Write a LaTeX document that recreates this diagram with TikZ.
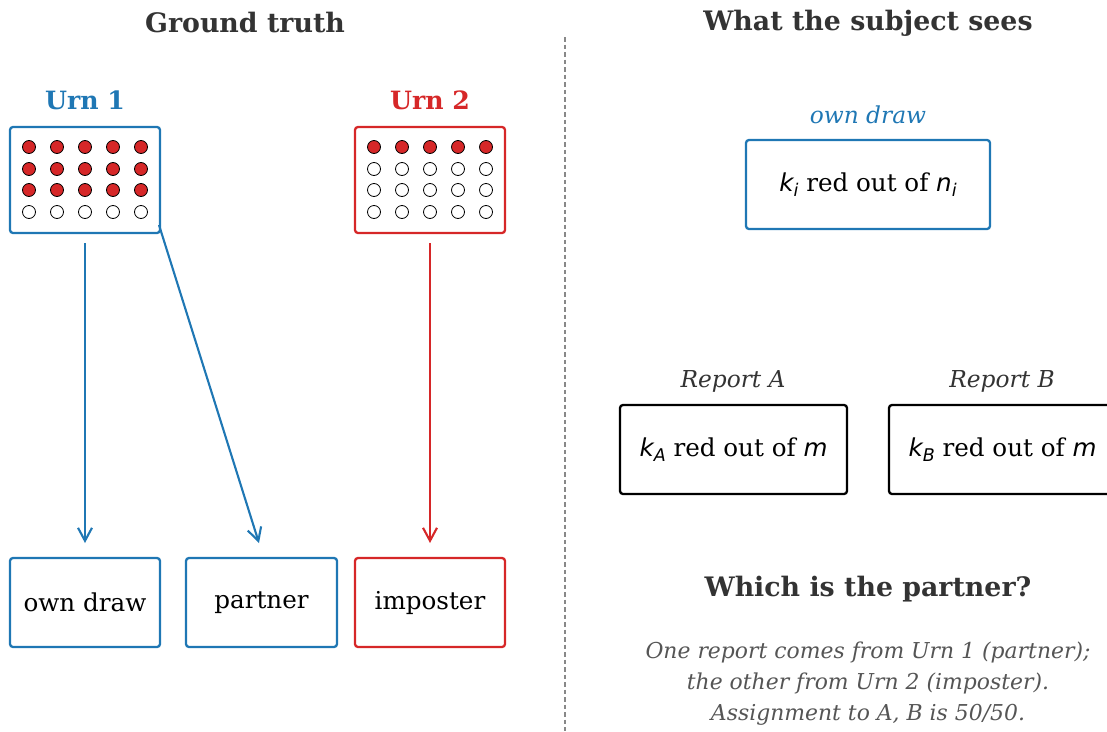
\documentclass[tikz,border=0pt]{standalone}
\usepackage{fontspec}
\setmainfont{DejaVu Serif}
\newfontfamily\dvsans{DejaVu Sans}
\usetikzlibrary{arrows.meta,calc}
\definecolor{cblue}{HTML}{1F77B4}
\definecolor{cred}{HTML}{D62728}
\definecolor{dark}{HTML}{333333}
\definecolor{note}{HTML}{555555}
\definecolor{divider}{HTML}{888888}
% math-like variable with subscript, set in DejaVu Sans Oblique
\newcommand{\mvar}[1]{{\dvsans\itshape #1}}
\newcommand{\msub}[2]{{\dvsans\itshape #1\raisebox{-0.22em}{\fontsize{17.5}{20}\selectfont #2}}}
\tikzset{
  x=1pt, y=-1pt,
  titletext/.style={font=\fontsize{26.8}{32}\selectfont\bfseries, text=dark},
  urnlabel/.style={font=\fontsize{25.2}{30}\selectfont\bfseries},
  boxtext/.style={font=\fontsize{24.6}{29}\selectfont},
  boxframe/.style={draw, line width=2.3pt, rounded corners=3pt, inner sep=0pt, minimum height=89pt},
  urnbox/.style={draw, line width=2.3pt, rounded corners=3pt, inner sep=0pt, minimum width=150pt, minimum height=106pt},
  redball/.style={circle, draw=black, line width=0.8pt, fill=cred, minimum size=13pt, inner sep=0pt},
  whiteball/.style={circle, draw=black, line width=0.8pt, fill=white, minimum size=13pt, inner sep=0pt},
  flow/.style={line width=2.1pt, -{Straight Barb[length=13pt,width=14pt,line width=2.1pt]}},
  reportlabel/.style={font=\fontsize{23.3}{28}\selectfont\itshape, text=dark},
}
\begin{document}
\begin{tikzpicture}
\useasboundingbox (0,0) rectangle (1107,731);

% headings
\node[titletext] (gt) at (245,23) {Ground truth};
\node[titletext] (ws) at (868,23) {What the subject sees};

% divider
\draw[divider, line width=1.2pt, dash pattern=on 4.5pt off 3pt] (565,37) -- (565,731);

% urns
\node[urnlabel, text=cblue] (u1lab) at (85,100) {Urn 1};
\node[urnlabel, text=cred] (u2lab) at (430,100) {Urn 2};
\node[urnbox, draw=cblue] (u1) at (85,180) {};
\node[urnbox, draw=cred] (u2) at (430,180) {};

% balls: urn 1 has 15 red of 20, urn 2 has 5 red of 20
\foreach \c in {0,...,4} {
  \foreach \r/\ry in {0/147,1/169,2/190} {
    \node[redball] (a\r\c) at (29+28*\c,\ry) {};
  }
  \node[whiteball] (a3\c) at (29+28*\c,212) {};
  \node[redball] (b0\c) at (374+28*\c,147) {};
  \foreach \r/\ry in {1/169,2/190,3/212} {
    \node[whiteball] (b\r\c) at (374+28*\c,\ry) {};
  }
}

% draws
\node[boxframe, draw=cblue, minimum width=150pt, boxtext] (own) at (85,602.5) {own draw};
\node[boxframe, draw=cblue, minimum width=151pt, boxtext] (partner) at (261.5,602.5) {partner};
\node[boxframe, draw=cred, minimum width=150pt, boxtext] (imp) at (430,602.5) {imposter};

\coordinate (u1a) at (85,243);
\coordinate (u1b) at (159,225);
\coordinate (u2a) at (430,243);
\coordinate (owntip) at (85,543);
\coordinate (partip) at (259,543);
\coordinate (imptip) at (430,543);
\draw[flow, cblue] (u1a) -- (owntip);
\draw[flow, cblue] (u1b) -- (partip);
\draw[flow, cred] (u2a) -- (imptip);

% subject's view
\node[font=\fontsize{23.3}{28}\selectfont\itshape, text=cblue] (ownlab) at (868,115) {own draw};
\node[boxframe, draw=cblue, minimum width=244pt, boxtext] (ownv) at (868,184.5)
  {\msub{k}{i} red out of \msub{n}{i}};

\node[reportlabel] (ralab) at (733,381) {Report A};
\node[reportlabel] (rblab) at (1002,381) {Report B};
\node[boxframe, draw=black, minimum width=227pt, boxtext] (ra) at (733.5,449.5)
  {\msub{k}{A} red out of \mvar{m}};
\node[boxframe, draw=black, minimum width=227pt, boxtext] (rb) at (1002.5,449.5)
  {\msub{k}{B} red out of \mvar{m}};

\node[titletext] (q) at (868,589) {Which is the partner?};
\node[font=\fontsize{21.9}{31}\selectfont\itshape, text=note, align=center] (expl) at (868,684)
  {One report comes from Urn 1 (partner);\\ the other from Urn 2 (imposter).\\ Assignment to A, B is 50/50.};
\end{tikzpicture}
\end{document}
